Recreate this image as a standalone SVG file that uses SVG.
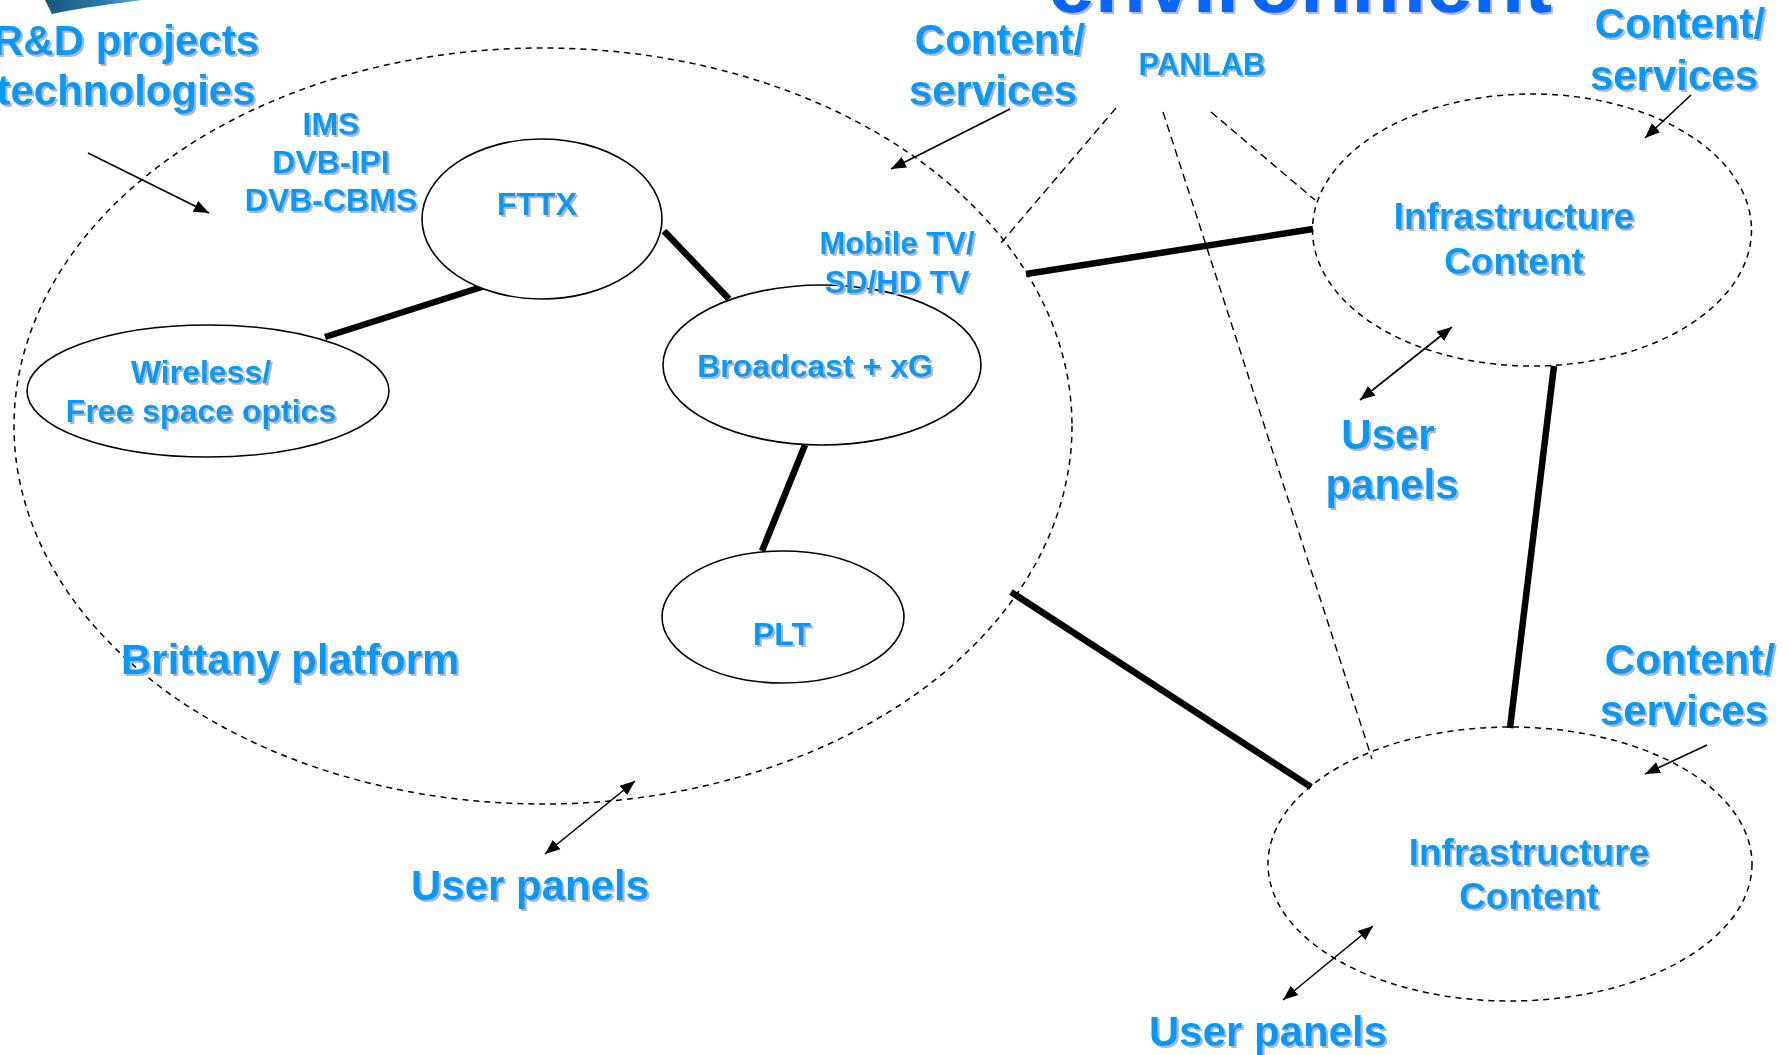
<svg xmlns="http://www.w3.org/2000/svg" width="1788" height="1055" viewBox="0 0 1788 1055">
<defs>
<style>
.t{font-family:"Liberation Sans",Arial,Helvetica,sans-serif;font-weight:bold;fill:#0099FF;filter:url(#sh)}
.lg{font-size:42px}
.md{font-size:32px}
.inf{font-size:37px}
.node{fill:#fff;stroke:#000;stroke-width:1.6}
.dnode{fill:none;stroke:#000;stroke-width:1.5;stroke-dasharray:6 5}
.thick{stroke:#000;stroke-width:6.5;fill:none}
.dash{stroke:#000;stroke-width:1.4;stroke-dasharray:8 5;fill:none}
.arr{stroke:#000;stroke-width:1.6;fill:none}
</style>
<filter id="sh" x="-5%" y="-30%" width="115%" height="160%">
<feOffset in="SourceAlpha" dx="2" dy="2" result="o"/>
<feFlood flood-color="#b8b8b8"/>
<feComposite in2="o" operator="in" result="s"/>
<feMerge><feMergeNode in="s"/><feMergeNode in="SourceGraphic"/></feMerge>
</filter>
<marker id="ah" markerUnits="userSpaceOnUse" markerWidth="16" markerHeight="13" refX="15" refY="6" orient="auto-start-reverse" viewBox="0 0 16 12">
<path d="M0,0 L15,6 L0,12 z" fill="#000"/>
</marker>
<linearGradient id="lgo" x1="0" y1="0" x2="1" y2="0">
<stop offset="0" stop-color="#17577d"/>
<stop offset="0.6" stop-color="#2a7aa6"/>
<stop offset="1" stop-color="#6aa8cc"/>
</linearGradient>
</defs>
<rect width="1788" height="1055" fill="#fff"/>

<path id="logo" d="M45,0 L142,0 C114,4 84,7 52,14 Z" fill="url(#lgo)"/>
<text class="t" x="1300" y="12" text-anchor="middle" style="font-size:84px;fill:#0066FF">environment</text>

<g id="connectors">
<line class="dash" x1="1116" y1="108" x2="1001" y2="243"/>
<line class="dash" x1="1163" y1="112" x2="1372" y2="759"/>
<line class="dash" x1="1211" y1="112" x2="1315" y2="200"/>
<line class="thick" x1="488" y1="285" x2="325" y2="337"/>
<line class="thick" x1="664" y1="231" x2="729" y2="299"/>
<line class="thick" x1="805" y1="445" x2="762" y2="551"/>
<line class="thick" x1="1026" y1="274" x2="1313" y2="229"/>
<line class="thick" x1="1011" y1="592" x2="1311" y2="787"/>
<line class="thick" x1="1554" y1="366" x2="1510" y2="728"/>
<line class="arr" x1="88" y1="153" x2="209" y2="213" marker-end="url(#ah)"/>
<line class="arr" x1="1010" y1="109" x2="891" y2="169" marker-end="url(#ah)"/>
<line class="arr" x1="1691" y1="95" x2="1645" y2="138" marker-end="url(#ah)"/>
<line class="arr" x1="1707" y1="745" x2="1645" y2="774" marker-end="url(#ah)"/>
<line class="arr" x1="635" y1="781" x2="545" y2="854" marker-start="url(#ah)" marker-end="url(#ah)"/>
<line class="arr" x1="1452" y1="327" x2="1360" y2="400" marker-start="url(#ah)" marker-end="url(#ah)"/>
<line class="arr" x1="1373" y1="926" x2="1283" y2="1000" marker-start="url(#ah)" marker-end="url(#ah)"/>
</g>

<g id="brittany">
<ellipse class="dnode" cx="543" cy="426" rx="529" ry="378"/>
<text class="t lg" x="121" y="674">Brittany platform</text>
</g>

<g id="fttx">
<ellipse class="node" cx="542" cy="219" rx="120" ry="80"/>
<text class="t md" x="537" y="215" text-anchor="middle">FTTX</text>
</g>

<g id="wireless">
<ellipse class="node" cx="208" cy="391" rx="181" ry="66"/>
<text class="t md" text-anchor="middle"><tspan x="201" y="383">Wireless/</tspan><tspan x="201" y="422">Free space optics</tspan></text>
</g>

<g id="broadcast">
<ellipse class="node" cx="822" cy="365" rx="159" ry="80"/>
<text class="t md" x="815" y="377" text-anchor="middle">Broadcast + xG</text>
</g>

<g id="plt">
<ellipse class="node" cx="783" cy="617" rx="121" ry="66"/>
<text class="t md" x="782" y="645" text-anchor="middle">PLT</text>
</g>

<g id="infra-top">
<ellipse class="dnode" cx="1532" cy="230" rx="219.5" ry="136"/>
<text class="t inf" text-anchor="middle"><tspan x="1514" y="229">Infrastructure</tspan><tspan x="1514" y="274">Content</tspan></text>
</g>

<g id="infra-bottom">
<ellipse class="dnode" cx="1510" cy="864" rx="242" ry="137"/>
<text class="t inf" text-anchor="middle"><tspan x="1529" y="865">Infrastructure</tspan><tspan x="1529" y="909">Content</tspan></text>
</g>

<g id="labels">
<text class="t lg" text-anchor="middle"><tspan x="126" y="55">R&amp;D projects</tspan><tspan x="126" y="105">technologies</tspan></text>
<text class="t md" text-anchor="middle"><tspan x="331" y="135">IMS</tspan><tspan x="331" y="173">DVB-IPI</tspan><tspan x="331" y="211">DVB-CBMS</tspan></text>
<text class="t md" text-anchor="middle" style="font-size:31px"><tspan x="897" y="254">Mobile TV/</tspan><tspan x="897" y="293">SD/HD TV</tspan></text>
<text class="t md" x="1202" y="75" text-anchor="middle" style="font-size:31px">PANLAB</text>
<text class="t lg" text-anchor="middle"><tspan x="1000" y="54">Content/</tspan><tspan x="993" y="105">services</tspan></text>
<text class="t lg" text-anchor="middle"><tspan x="1680" y="38">Content/</tspan><tspan x="1674" y="90">services</tspan></text>
<text class="t lg" text-anchor="middle"><tspan x="1690" y="674">Content/</tspan><tspan x="1684" y="725">services</tspan></text>
<text class="t lg" text-anchor="middle"><tspan x="1388" y="449">User</tspan><tspan x="1392" y="499">panels</tspan></text>
<text class="t lg" x="530" y="900" text-anchor="middle">User panels</text>
<text class="t lg" x="1268" y="1046" text-anchor="middle">User panels</text>
</g>
</svg>
